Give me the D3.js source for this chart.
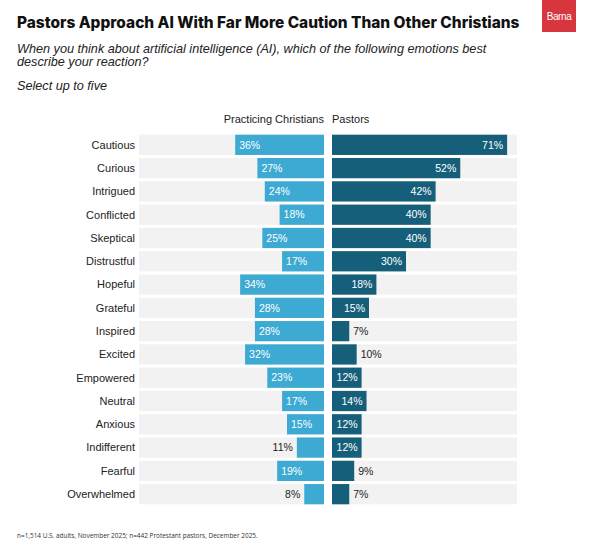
<!DOCTYPE html>
<html><head><meta charset="utf-8">
<script src="https://cdn.jsdelivr.net/npm/d3@7"></script>
<style>body{margin:0;background:#fff}svg{display:block}</style>
</head><body>
<script>
const categories = ["Cautious","Curious","Intrigued","Conflicted","Skeptical","Distrustful","Hopeful","Grateful","Inspired","Excited","Empowered","Neutral","Anxious","Indifferent","Fearful","Overwhelmed"];
const practicing = [36,27,24,18,25,17,34,28,28,32,23,17,15,11,19,8];
const pastors = [71,52,42,40,40,30,18,15,7,10,12,14,12,12,9,7];
const seriesNames = ["Practicing Christians","Pastors"];
const subtitleLines = ["When you think about artificial intelligence (AI), which of the following emotions best","describe your reaction?"];

const W=600,H=559;
const svg=d3.select("body").append("svg").attr("width",W).attr("height",H);

function fit(sel,target){const w=sel.node().getComputedTextLength();const fs=parseFloat(sel.attr("font-size"));sel.attr("font-size",fs*target/w);}

// Logo
svg.append("rect").attr("x",542).attr("y",0).attr("width",34).attr("height",32).attr("fill","#d7363f");
svg.append("text").attr("x",559).attr("y",20).attr("text-anchor","middle").attr("fill","#fff")
  .attr("font-family","Liberation Sans, Arial").attr("font-size",10).attr("letter-spacing",-0.4).text("Barna");

const title=svg.append("text").attr("x",17).attr("y",28).attr("font-family","Inter").attr("font-weight",800)
  .attr("font-size",15).attr("fill","#111").text("Pastors Approach AI With Far More Caution Than Other Christians");
fit(title,503);

const sub=svg.append("g").attr("font-family","Liberation Sans, Arial, sans-serif").attr("font-style","italic").attr("fill","#222");
const probe=sub.append("text").attr("font-size",12).text(subtitleLines[0]);
const w0=probe.node().getComputedTextLength();probe.remove();
const fs=12*470/w0;
sub.append("text").attr("x",17).attr("y",52.5).attr("font-size",fs).text(subtitleLines[0]);
sub.append("text").attr("x",17).attr("y",66).attr("font-size",fs).text(subtitleLines[1]);
sub.append("text").attr("x",17).attr("y",90).attr("font-size",fs).text("Select up to five");

const y=d3.scaleBand().domain(categories).range([134,505]).paddingInner(0.13).paddingOuter(0.03);
const xL=d3.scaleLinear().domain([0,75]).range([324,139]);
const xR=d3.scaleLinear().domain([0,75]).range([332,517]);
const font="Liberation Sans, Arial, sans-serif";
const thr=12;

svg.append("text").attr("x",324).attr("y",123).attr("text-anchor","end").attr("font-family",font).attr("font-size",11).attr("fill","#222").text(seriesNames[0]);
svg.append("text").attr("x",332).attr("y",123).attr("font-family",font).attr("font-size",11).attr("fill","#222").text(seriesNames[1]);

const rows=svg.append("g").selectAll("g").data(categories).join("g");
rows.append("rect").attr("x",xL(75)).attr("y",d=>y(d)).attr("width",xL(0)-xL(75)).attr("height",y.bandwidth()).attr("fill","#f2f2f2");
rows.append("rect").attr("x",xR(0)).attr("y",d=>y(d)).attr("width",xR(75)-xR(0)).attr("height",y.bandwidth()).attr("fill","#f2f2f2");
rows.append("text").attr("x",135).attr("y",d=>y(d)+y.bandwidth()/2).attr("dy","0.35em").attr("text-anchor","end")
  .attr("font-family",font).attr("font-size",11).attr("fill","#222").text(d=>d);

rows.append("rect").attr("x",(d,i)=>xL(practicing[i])).attr("y",d=>y(d)).attr("width",(d,i)=>xL(0)-xL(practicing[i])).attr("height",y.bandwidth()).attr("fill","#3daad4");
rows.append("rect").attr("x",xR(0)).attr("y",d=>y(d)).attr("width",(d,i)=>xR(pastors[i])-xR(0)).attr("height",y.bandwidth()).attr("fill","#165f7b");

rows.append("text").attr("y",d=>y(d)+y.bandwidth()/2).attr("dy","0.35em").attr("font-family",font).attr("font-size",10.5)
  .each(function(d,i){const v=practicing[i];const t=d3.select(this);
    if(v>=thr){t.attr("x",xL(v)+4).attr("text-anchor","start").attr("fill","#fff");}
    else{t.attr("x",xL(v)-4).attr("text-anchor","end").attr("fill","#222");}
    t.text(v+"%");});
rows.append("text").attr("y",d=>y(d)+y.bandwidth()/2).attr("dy","0.35em").attr("font-family",font).attr("font-size",10.5)
  .each(function(d,i){const v=pastors[i];const t=d3.select(this);
    if(v>=thr){t.attr("x",xR(v)-4).attr("text-anchor","end").attr("fill","#fff");}
    else{t.attr("x",xR(v)+4).attr("text-anchor","start").attr("fill","#222");}
    t.text(v+"%");});

const foot=svg.append("text").attr("x",17).attr("y",537.5).attr("font-family","Open Sans").attr("font-size",6).attr("fill","#333")
  .text("n=1,514 U.S. adults, November 2025; n=442 Protestant pastors, December 2025.");
fit(foot,241);
</script>
</body></html>
